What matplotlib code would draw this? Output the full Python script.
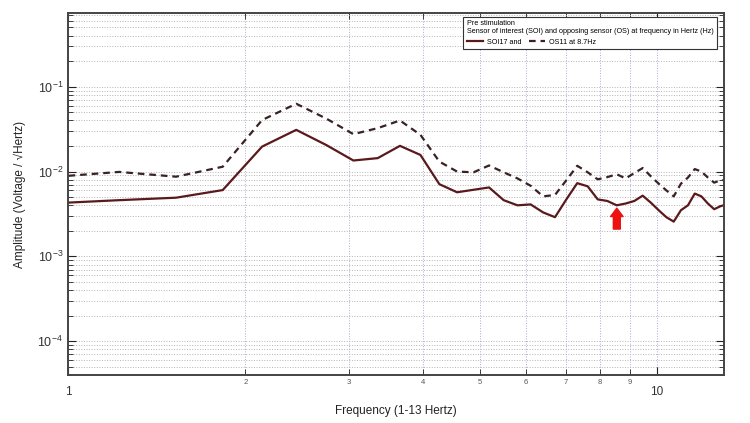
import numpy as np
import matplotlib
matplotlib.use('Agg')
import matplotlib.pyplot as plt
from matplotlib.ticker import FixedLocator, FixedFormatter, LogLocator, NullFormatter

plt.rcParams['font.family'] = ['Liberation Sans', 'DejaVu Sans']

# frequency bins (Hz)
freq = [0.916, 1.221, 1.526, 1.831, 2.136, 2.441, 2.747, 3.052, 3.357, 3.662,
        3.967, 4.272, 4.578, 4.883, 5.188, 5.493, 5.798, 6.104, 6.409, 6.714,
        7.019, 7.324, 7.629, 7.935, 8.240, 8.545, 8.850, 9.155, 9.460, 9.766,
        10.071, 10.376, 10.681, 10.986, 11.292, 11.597, 11.902, 12.207, 12.512,
        12.818, 13.123]

# SOI17 amplitude
soi17 = [0.00418, 0.0046, 0.00492, 0.00605, 0.0197, 0.0310, 0.0205, 0.0135, 0.0144, 0.0201,
         0.0157, 0.0071, 0.0057, 0.0061, 0.0065, 0.0046, 0.0040, 0.0041, 0.0033, 0.0029,
         0.0047, 0.0073, 0.0067, 0.0047, 0.0045, 0.0040, 0.0042, 0.0045, 0.0052, 0.0043,
         0.0035, 0.0029, 0.00257, 0.0035, 0.0040, 0.0055, 0.0051, 0.0042, 0.0036,
         0.0039, 0.0041]

# OS11 amplitude
os11 = [0.0085, 0.0099, 0.0087, 0.0114, 0.0405, 0.063, 0.042, 0.0276, 0.0325, 0.040,
        0.0271, 0.0131, 0.0100, 0.0098, 0.0118, 0.0098, 0.0083, 0.0068, 0.0051, 0.0053,
        0.0079, 0.0117, 0.0098, 0.0081, 0.0086, 0.0093, 0.0083, 0.0096, 0.0110, 0.0088,
        0.0072, 0.0060, 0.0051, 0.0072, 0.0085, 0.0107, 0.0100, 0.0085, 0.0074,
        0.0079, 0.0080]

minor_x = [2, 3, 4, 5, 6, 7, 8, 9]
minor_lab = ['2', '3', '4', '5', '6', '7', '8', '9']

arrow_f = 8.55
arrow_tip = 0.0037
arrow_base = 0.0021

fig = plt.figure(figsize=(7.5, 4.23), dpi=100)
ax = fig.add_axes([0.0907, 0.1135, 0.8746, 0.8558])
ax.set_xscale('log')
ax.set_yscale('log')

ax.plot(freq, soi17, color='#5a1a1c', lw=1.6, ls='-', label='SOI17 and')
ax.plot(freq, os11, color='#3a2224', lw=1.6, ls=(0, (3, 2.2)), label='OS11 at 8.7Hz')

ax.set_xlim(1, 13)
ax.set_ylim(4e-5, 0.74)

ax.xaxis.set_major_locator(FixedLocator([1, 10]))
ax.xaxis.set_major_formatter(FixedFormatter(['1', '10']))
ax.xaxis.set_minor_locator(FixedLocator(minor_x))
ax.xaxis.set_minor_formatter(FixedFormatter(minor_lab))
ax.yaxis.set_major_locator(LogLocator(base=10, numticks=10))
ax.yaxis.set_minor_locator(LogLocator(base=10, subs=np.arange(2, 10), numticks=20))
ax.yaxis.set_minor_formatter(NullFormatter())

ax.tick_params(which='both', direction='in', top=True, right=True, colors='#222222')
ax.tick_params(axis='x', which='major', labelsize=8.5, pad=8, length=6, labelcolor='#333333')
ax.tick_params(axis='x', which='minor', labelsize=5.5, pad=3, length=4, labelcolor='#555555')
ax.tick_params(axis='y', which='major', labelsize=9, length=6, labelcolor='#333333')
ax.tick_params(axis='y', which='minor', length=3.5)

ax.xaxis.grid(True, which='both', ls=':', color='#a8aed0', lw=0.7)
ax.yaxis.grid(True, which='both', ls=':', color='#b4b4b4', lw=0.7)

for s in ax.spines.values():
    s.set_linewidth(1.4)
    s.set_color('#444444')

ax.set_xlabel('Frequency (1-13 Hertz)', fontsize=8.5, color='#222222', va='center')
ax.xaxis.set_label_coords(0.5, -0.0994)
ax.set_ylabel('Amplitude (Voltage / \u221aHertz)', fontsize=8.5, color='#222222', va='center')
ax.yaxis.set_label_coords(-0.073, 0.5)

ax.annotate('', xy=(arrow_f, arrow_tip), xytext=(arrow_f, arrow_base),
            arrowprops=dict(facecolor='#ee1111', edgecolor='#ee1111', width=5,
                            headwidth=9, headlength=6))

leg = ax.legend(loc='upper right', bbox_to_anchor=(0.99, 0.99), borderaxespad=0,
                ncol=2, fontsize=5.2, title_fontsize=5.2, handlelength=2.2,
                columnspacing=1.0, handletextpad=0.6, fancybox=False, framealpha=1,
                edgecolor='#333333', borderpad=0.5, alignment='left',
                title='Pre stimulation\nSensor of interest (SOI) and opposing sensor (OS) at frequency in Hertz (Hz)')
leg.get_frame().set_linewidth(0.8)

fig.savefig('out.png', dpi=100)
